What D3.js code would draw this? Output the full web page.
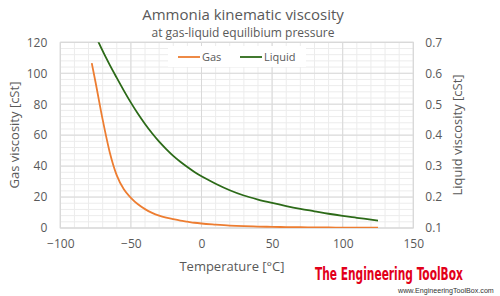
<!DOCTYPE html>
<html><head><meta charset="utf-8">
<script src="https://cdn.jsdelivr.net/npm/d3@7"></script>
<style>body{margin:0;background:#fff}svg{display:block}text{font-family:"Open Sans","Liberation Sans",sans-serif}</style>
</head><body>
<script>
const temps = [-77.7,-75,-70,-65,-60,-55,-50,-45,-40,-35,-30,-25,-20,-15,-10,-5,0,10,20,30,40,50,60,70,80,90,100,110,120,125];
const gasVisc = [106.5,94,70,49,34,25,19.5,15.3,12.2,9.8,8.0,6.7,5.7,4.8,4.1,3.4,2.9,2.2,1.6,1.2,0.95,0.75,0.6,0.48,0.4,0.33,0.28,0.23,0.19,0.17];
const liquidVisc = [0.752,0.722,0.672,0.627,0.585,0.544,0.505,0.469,0.436,0.406,0.379,0.355,0.333,0.314,0.297,0.281,0.267,0.243,0.222,0.205,0.192,0.181,0.171,0.162,0.154,0.146,0.139,0.133,0.127,0.124];
const xTicks = [-100,-50,0,50,100,150];
const yLeftTicks = [0,20,40,60,80,100,120];
const yRightTicks = [0.1,0.2,0.3,0.4,0.5,0.6,0.7];

const W=500,H=296;
const m={l:60.3,r:413.3,t:42.3,b:228};
const svg=d3.select("body").append("svg").attr("width",W).attr("height",H);
const x=d3.scaleLinear().domain([-100,150]).range([m.l,m.r]);
const yL=d3.scaleLinear().domain([0,120]).range([m.b,m.t]);
const yR=d3.scaleLinear().domain([0.1,0.7]).range([m.b,m.t]);
const txt="#595959";

// minor grid
const g=svg.append("g");
g.selectAll(".vmin").data(d3.range(-100,151,10)).join("line")
 .attr("x1",d=>x(d)).attr("x2",d=>x(d)).attr("y1",m.t).attr("y2",m.b)
 .attr("stroke","#ececec").attr("stroke-width",1);
g.selectAll(".hmin").data(d3.range(0,121,4)).join("line")
 .attr("y1",d=>yL(d)).attr("y2",d=>yL(d)).attr("x1",m.l).attr("x2",m.r)
 .attr("stroke","#ececec").attr("stroke-width",1);
// major grid
g.selectAll(".vmaj").data(xTicks).join("line")
 .attr("x1",d=>x(d)).attr("x2",d=>x(d)).attr("y1",m.t).attr("y2",m.b)
 .attr("stroke","#d9d9d9").attr("stroke-width",1);
g.selectAll(".hmaj").data(yLeftTicks).join("line")
 .attr("y1",d=>yL(d)).attr("y2",d=>yL(d)).attr("x1",m.l).attr("x2",m.r)
 .attr("stroke","#d9d9d9").attr("stroke-width",1);
svg.append("rect").attr("x",m.l).attr("y",m.t).attr("width",m.r-m.l).attr("height",m.b-m.t)
 .attr("fill","none").attr("stroke","#d9d9d9");

// legend box
svg.append("rect").attr("x",168).attr("y",46).attr("width",138).attr("height",21).attr("fill","#fff");

svg.append("defs").append("clipPath").attr("id","clip").append("rect")
 .attr("x",m.l).attr("y",m.t).attr("width",m.r-m.l).attr("height",m.b-m.t);

const gasLine=d3.line().x((d,i)=>x(temps[i])).y(d=>yL(d)).curve(d3.curveMonotoneX);
const liqLine=d3.line().x((d,i)=>x(temps[i])).y(d=>yR(d)).curve(d3.curveMonotoneX);
svg.append("path").datum(gasVisc).attr("d",gasLine).attr("fill","none")
 .attr("stroke","#ed7d31").attr("stroke-width",1.8).attr("clip-path","url(#clip)");
svg.append("path").datum(liquidVisc).attr("d",liqLine).attr("fill","none")
 .attr("stroke","#2c6a18").attr("stroke-width",1.8).attr("clip-path","url(#clip)");

// axes
const axB=svg.append("g").attr("transform",`translate(0,${m.b})`)
 .call(d3.axisBottom(x).tickValues(xTicks).tickSize(0).tickPadding(11));
const axL=svg.append("g").attr("transform",`translate(${m.l},0)`)
 .call(d3.axisLeft(yL).tickValues(yLeftTicks).tickSize(0).tickPadding(13));
const axR=svg.append("g").attr("transform",`translate(${m.r},0)`)
 .call(d3.axisRight(yR).tickValues(yRightTicks).tickFormat(d3.format(".1f")).tickSize(0).tickPadding(12));
[axB,axL,axR].forEach(a=>{a.select(".domain").remove();
 a.selectAll("text").attr("fill",txt).style("font-size","12px").style("font-family","'Open Sans','Liberation Sans',sans-serif");});

// titles
svg.append("text").attr("x",243).attr("y",20).attr("text-anchor","middle").attr("fill",txt)
 .style("font-size","15px").text("Ammonia kinematic viscosity");
svg.append("text").attr("x",243).attr("y",37).attr("text-anchor","middle").attr("fill",txt)
 .style("font-size","12px").text("at gas-liquid equilibium pressure");
svg.append("text").attr("x",232).attr("y",271).attr("text-anchor","middle").attr("fill",txt)
 .style("font-size","13px").text("Temperature [°C]");
svg.append("text").attr("transform","translate(19,135) rotate(-90)").attr("text-anchor","middle").attr("fill",txt)
 .style("font-size","13px").text("Gas viscosity [cSt]");
svg.append("text").attr("transform","translate(462,135) rotate(-90)").attr("text-anchor","middle").attr("fill",txt)
 .style("font-size","13px").text("Liquid viscosity [cSt]");

// legend
const leg=[{n:"Gas",c:"#ed7d31",x:178},{n:"Liquid",c:"#2c6a18",x:240}];
leg.forEach(d=>{
 svg.append("line").attr("x1",d.x).attr("x2",d.x+22).attr("y1",57).attr("y2",57).attr("stroke",d.c).attr("stroke-width",1.8);
 svg.append("text").attr("x",d.x+24).attr("y",61).attr("fill",txt).style("font-size","11px").text(d.n);
});

// watermark (scaled horizontally to fit)
const wm=svg.append("text").attr("x",0).attr("y",0).attr("fill","#e2001a")
 .style("font-family","'Liberation Sans Narrow','DejaVu Sans Condensed',sans-serif").style("font-weight","bold")
 .style("font-size","18px").text("The Engineering ToolBox");
const wmW=wm.node().getComputedTextLength();
wm.attr("transform",`translate(315,280) scale(${148/wmW},1)`);
const url=svg.append("text").attr("x",0).attr("y",0).attr("fill","#333")
 .style("font-family","'Liberation Sans','DejaVu Sans',sans-serif")
 .style("font-size","6.5px").text("www.EngineeringToolBox.com");
const uW=url.node().getComputedTextLength();
url.attr("transform",`translate(398,292.5) scale(${96/uW},1)`);
</script>
</body></html>
